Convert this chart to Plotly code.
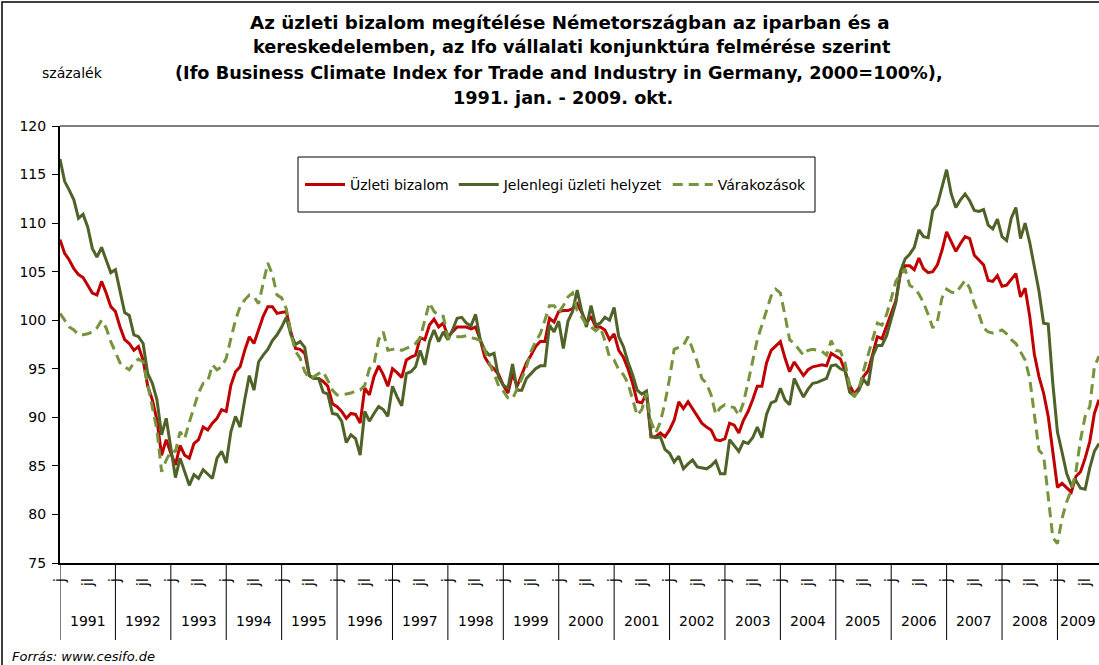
import plotly.graph_objects as go

years = list(range(1991, 2010))

uzleti_bizalom = [
    108.3, 106.9, 106.2, 105.3, 104.7, 104.4, 103.6, 102.8, 102.6, 104.0, 102.8, 101.4,
    100.9, 99.3, 98.0, 97.6, 96.9, 97.3, 95.9, 93.2, 91.8, 89.7, 86.1, 87.7,
    86.3, 85.1, 87.1, 86.1, 85.8, 87.3, 87.7, 89.0, 88.7, 89.4, 89.9, 90.8,
    90.6, 93.3, 94.7, 95.2, 96.9, 98.3, 97.6, 99.0, 100.4, 101.4, 101.4, 100.7,
    100.8, 100.9, 98.8, 97.1, 97.0, 96.6, 94.3, 94.0, 94.0, 93.7, 93.2, 91.4,
    91.1, 90.6, 89.9, 90.4, 90.3, 89.4, 93.0, 92.3, 94.2, 95.3, 94.4, 93.2,
    95.0, 94.6, 94.1, 95.9, 96.2, 96.4, 98.2, 98.0, 99.5, 100.1, 99.3, 99.7,
    98.3, 98.8, 99.3, 99.3, 99.3, 99.1, 99.3, 98.0, 96.2, 95.4, 95.0, 94.4,
    93.3, 92.5, 94.5, 93.2, 94.5, 95.6, 96.4, 97.3, 97.8, 97.8, 100.2, 99.8,
    100.9, 101.0, 101.0, 101.2, 101.7, 100.8, 99.7, 100.4, 99.3, 99.3, 99.0, 98.0,
    98.6, 96.9, 96.2, 95.0, 93.5, 91.6, 91.5, 92.5, 88.0, 88.0, 88.4, 88.0,
    88.7, 89.7, 91.6, 90.9, 91.6, 90.9, 90.1, 89.4, 89.0, 88.7, 87.7, 87.6,
    87.8, 89.4, 89.2, 88.4, 89.7, 90.6, 91.8, 93.2, 93.2, 95.6, 96.9, 97.3,
    97.8, 96.1, 94.7, 95.7, 95.0, 94.3, 94.9, 95.2, 95.3, 95.4, 95.3, 96.6,
    96.3, 96.0, 94.8, 93.3, 92.4, 93.0, 94.2, 94.8, 96.5, 98.3, 98.1, 99.3,
    100.7, 102.0, 104.8, 105.6, 105.6, 105.2, 106.4, 105.3, 104.9, 105.0, 105.7, 107.2,
    109.1, 108.1, 107.1, 107.9, 108.6, 108.4, 106.7, 106.2, 105.7, 104.1, 104.0, 104.6,
    103.5, 103.6, 104.2, 104.8, 102.4, 103.3, 100.4, 96.5, 94.2, 92.5, 90.1, 86.3,
    82.8, 83.2, 82.7, 82.3, 83.9, 84.4, 85.8, 87.5, 90.4, 91.8,
]

jelenlegi_helyzet = [
    116.6, 114.3, 113.4, 112.4, 110.5, 110.9, 109.6, 107.4, 106.5, 107.5, 106.2, 104.9,
    105.2, 103.0, 100.8, 100.5, 98.5, 98.3, 97.6, 94.5, 93.5, 91.8, 88.2, 89.9,
    86.6, 83.8, 85.8, 84.4, 83.0, 84.1, 83.7, 84.6, 84.1, 83.7, 85.8, 86.5,
    85.3, 88.5, 90.1, 89.0, 91.8, 94.3, 92.8, 95.7, 96.4, 97.0, 97.9, 98.5,
    99.3, 100.3, 98.5, 97.5, 97.8, 97.2, 94.3, 94.0, 94.0, 92.6, 92.4, 90.4,
    90.3, 89.6, 87.4, 88.2, 87.8, 86.1, 90.6, 89.6, 90.4, 91.1, 90.8, 90.1,
    93.2, 92.1, 91.2, 94.5, 94.7, 95.2, 96.9, 95.4, 97.8, 99.0, 97.8, 98.8,
    98.0, 99.0, 100.2, 100.3, 99.7, 99.4, 100.6, 98.0, 96.9, 96.4, 96.6, 94.1,
    93.3, 93.0, 95.5, 92.8, 92.8, 94.0, 94.5, 95.0, 95.3, 95.3, 99.5, 98.8,
    99.9, 97.1, 99.9, 100.9, 103.1, 100.9, 99.3, 101.5, 99.5, 99.7, 100.3, 100.0,
    101.3, 98.3, 97.3, 95.7, 94.4, 92.8, 92.4, 92.7, 88.0, 87.9, 88.0, 86.7,
    86.3, 85.4, 86.0, 84.7, 85.2, 85.6, 84.9, 84.8, 84.7, 85.0, 85.5, 84.2,
    84.2, 87.7, 87.1, 86.5, 87.5, 87.3, 87.9, 89.0, 87.9, 90.3, 91.5, 91.7,
    93.0, 91.8, 91.3, 94.0, 93.0, 92.1, 92.9, 93.5, 93.6, 93.8, 94.0, 95.3,
    95.4, 95.0, 94.8, 92.6, 92.2, 92.8, 93.9, 93.3, 96.3, 97.4, 97.4, 98.4,
    100.0, 101.8, 105.0, 106.3, 106.8, 107.5, 109.3, 108.6, 108.5, 111.3, 111.9, 113.7,
    115.5, 113.0, 111.6, 112.4, 113.0, 112.3, 111.3, 111.2, 111.4, 109.8, 109.4, 110.4,
    108.6, 108.2, 110.5, 111.6, 108.4, 110.0, 108.0, 105.5, 103.0, 99.7, 99.6, 93.5,
    88.5, 86.4, 84.2, 83.0, 83.5, 82.7, 82.6, 84.8, 86.5, 87.3,
]

varakozasok = [
    100.7, 100.0, 99.3, 99.0, 98.5, 98.5, 98.6, 98.8, 99.2, 100.0, 99.2, 97.8,
    96.6, 95.6, 95.2, 94.9, 95.6, 96.0, 95.7, 93.3, 91.1, 88.7, 84.4, 85.6,
    86.5, 86.5, 88.5, 87.8, 89.5, 91.1, 92.5, 93.5, 93.7, 95.4, 94.9, 95.2,
    96.1, 98.1, 100.0, 101.4, 102.1, 102.6, 102.4, 101.7, 103.8, 105.9, 104.7, 102.6,
    102.3, 101.2, 98.6, 96.8, 96.1, 94.7, 94.0, 94.2, 94.5, 94.7, 93.8, 92.8,
    92.3, 92.3, 92.4, 92.5, 92.7, 92.8, 93.3, 95.0, 95.5, 98.0, 98.8, 96.9,
    97.0, 97.1, 96.9, 97.1, 97.3, 97.6, 98.2, 100.0, 101.8, 100.9, 100.5, 100.4,
    98.2, 98.3, 98.3, 98.3, 98.4, 98.2, 98.1, 97.9, 96.9, 95.5, 94.5, 93.2,
    92.7, 92.0, 91.9, 92.9, 94.0, 95.2, 96.8, 97.8, 98.6, 100.0, 101.5, 101.5,
    100.8, 101.5, 102.4, 102.8, 101.0, 100.3, 99.5, 99.3, 98.9, 99.3, 97.9, 96.2,
    95.9, 94.9, 94.4, 93.5, 91.8, 90.2, 90.8, 92.5, 89.5, 88.4, 89.5, 91.5,
    94.0, 97.0, 97.2, 97.4, 98.3, 97.0, 95.7, 94.0, 93.5, 92.3, 90.3, 91.0,
    91.3, 91.1, 91.0, 90.2, 91.5, 93.6, 96.0, 98.0, 99.5, 101.0, 102.5, 103.2,
    102.8, 100.5, 98.0, 97.6, 97.0, 96.4, 96.9, 97.0, 96.9, 96.8, 96.4, 97.9,
    96.9, 96.8, 95.6, 93.3, 92.1, 92.9, 94.8, 96.4, 97.9, 99.7, 99.5, 100.6,
    102.2, 104.0, 104.7, 105.3, 103.6, 103.3, 102.7, 101.8, 100.6, 99.2, 99.9, 102.3,
    103.2, 102.9, 102.8, 103.4, 104.1, 103.3, 101.7, 100.6, 99.2, 98.8, 98.7, 98.8,
    99.0, 98.6, 98.0, 97.6, 96.8, 95.9, 94.0, 90.5, 86.6, 86.1, 82.0, 77.6,
    77.0, 79.6, 81.3, 82.5, 84.4, 87.7, 90.1, 91.1, 95.2, 96.3,
]

month_tick_text = {1: "j", 7: "jl"}
last_month_text = "o"

series_names = ["Üzleti bizalom", "Jelenlegi üzleti helyzet", "Várakozások"]
series_colors = ["#C00000", "#4F6228", "#77933C"]

title_lines = [
    "Az üzleti bizalom megítélése Németországban az iparban és a",
    "kereskedelemben, az Ifo vállalati konjunktúra felmérése szerint",
    "(Ifo Business Climate Index for Trade and Industry in Germany, 2000=100%),",
    "1991. jan. - 2009. okt.",
]

FONT = "DejaVu Sans"
W, H = 1099, 665
L, R, T, B = 60, 0, 126, 102
PW, PH = W - L - R, H - T - B


def px_to_paper_x(px):
    return (px - L) / PW


def py_to_paper_y(py):
    return (H - B - py) / PH


n = len(uzleti_bizalom)
x = list(range(n))
tickvals, ticktext = [], []
for i in x:
    m = i % 12 + 1
    if m in month_tick_text:
        tickvals.append(i)
        ticktext.append(month_tick_text[m])
tickvals.append(n - 1)
ticktext.append(last_month_text)

fig = go.Figure()
for ys, name, col, dash in zip(
    [uzleti_bizalom, jelenlegi_helyzet, varakozasok],
    series_names, series_colors, ["solid", "solid", "10px,6px"],
):
    fig.add_trace(go.Scatter(
        x=x, y=ys, mode="lines", name=name,
        line=dict(color=col, width=3, dash=dash),
        hoverinfo="skip",
    ))

shapes = []
annotations = []

# year dividers and year labels
for k, yr in enumerate(years):
    start = 12 * k
    end = min(12 * k + 12, n - 1)
    shapes.append(dict(type="line", xref="x", yref="paper", x0=start, x1=start,
                       y0=0, y1=-77 / PH, line=dict(color="black", width=1)))
    annotations.append(dict(xref="x", yref="paper", x=(start + end) / 2,
                            y=py_to_paper_y(621), text=str(yr), showarrow=False,
                            xanchor="center", yanchor="middle",
                            font=dict(family=FONT, size=14, color="black")))

# top border of plot area
shapes.append(dict(type="line", xref="paper", yref="paper", x0=0, x1=1.01, y0=1, y1=1,
                   line=dict(color="black", width=1)))
# legend box
shapes.append(dict(type="rect", xref="paper", yref="paper",
                   x0=px_to_paper_x(298), x1=px_to_paper_x(815),
                   y0=py_to_paper_y(212), y1=py_to_paper_y(157),
                   line=dict(color="black", width=1), fillcolor="white", layer="below"))
# outer chart border
shapes.append(dict(type="rect", xref="paper", yref="paper",
                   x0=px_to_paper_x(2), x1=px_to_paper_x(1110),
                   y0=py_to_paper_y(680), y1=py_to_paper_y(2),
                   line=dict(color="black", width=1.5)))

title_centers = [(570, 22), (572, 47), (559, 73), (563, 98)]
title_sizes = [18.3, 17.7, 17.7, 17.7]
for txt, (cx, cy), fs in zip(title_lines, title_centers, title_sizes):
    annotations.append(dict(xref="paper", yref="paper", x=px_to_paper_x(cx),
                            y=py_to_paper_y(cy), text="<b>" + txt + "</b>",
                            showarrow=False, xanchor="center", yanchor="middle",
                            font=dict(family=FONT, size=fs, color="black")))

annotations.append(dict(xref="paper", yref="paper", x=px_to_paper_x(40),
                        y=py_to_paper_y(73), text="százalék", showarrow=False,
                        xanchor="left", yanchor="middle",
                        font=dict(family=FONT, size=14, color="black")))
annotations.append(dict(xref="paper", yref="paper", x=px_to_paper_x(10),
                        y=py_to_paper_y(656), text="<i>Forrás: www.cesifo.de</i>",
                        showarrow=False, xanchor="left", yanchor="middle",
                        font=dict(family=FONT, size=13, color="black")))

fig.update_layout(
    width=W, height=H,
    margin=dict(l=L, r=R, t=T, b=B, pad=0),
    template="none",
    paper_bgcolor="white", plot_bgcolor="white",
    font=dict(family=FONT, size=14, color="black"),
    showlegend=True,
    legend=dict(orientation="h", x=px_to_paper_x(300), y=py_to_paper_y(185),
                xanchor="left", yanchor="middle", bgcolor="rgba(0,0,0,0)",
                borderwidth=0, font=dict(family=FONT, size=14, color="black"),
                itemwidth=40),
    xaxis=dict(range=[0, n - 1], tickmode="array", tickvals=tickvals, ticktext=ticktext,
               tickangle=-90, ticks="outside", ticklen=7, tickcolor="rgba(0,0,0,0)",
               showgrid=False, zeroline=False,
               showline=True, linecolor="black", linewidth=2, automargin=False,
               tickfont=dict(family=FONT, size=15, color="black")),
    yaxis=dict(range=[75, 120], tick0=75, dtick=5, ticks="outside", ticklen=6,
               tickcolor="black", tickwidth=1, showgrid=False, zeroline=False,
               showline=True, linecolor="black", linewidth=2, automargin=False,
               ticklabelstandoff=3, tickfont=dict(family=FONT, size=14, color="black")),
    shapes=shapes,
    annotations=annotations,
)

fig.write_html(
    "out.html",
    config={"displayModeBar": False},
    post_script="document.body.style.margin='0px';document.body.style.overflow='hidden';",
)
